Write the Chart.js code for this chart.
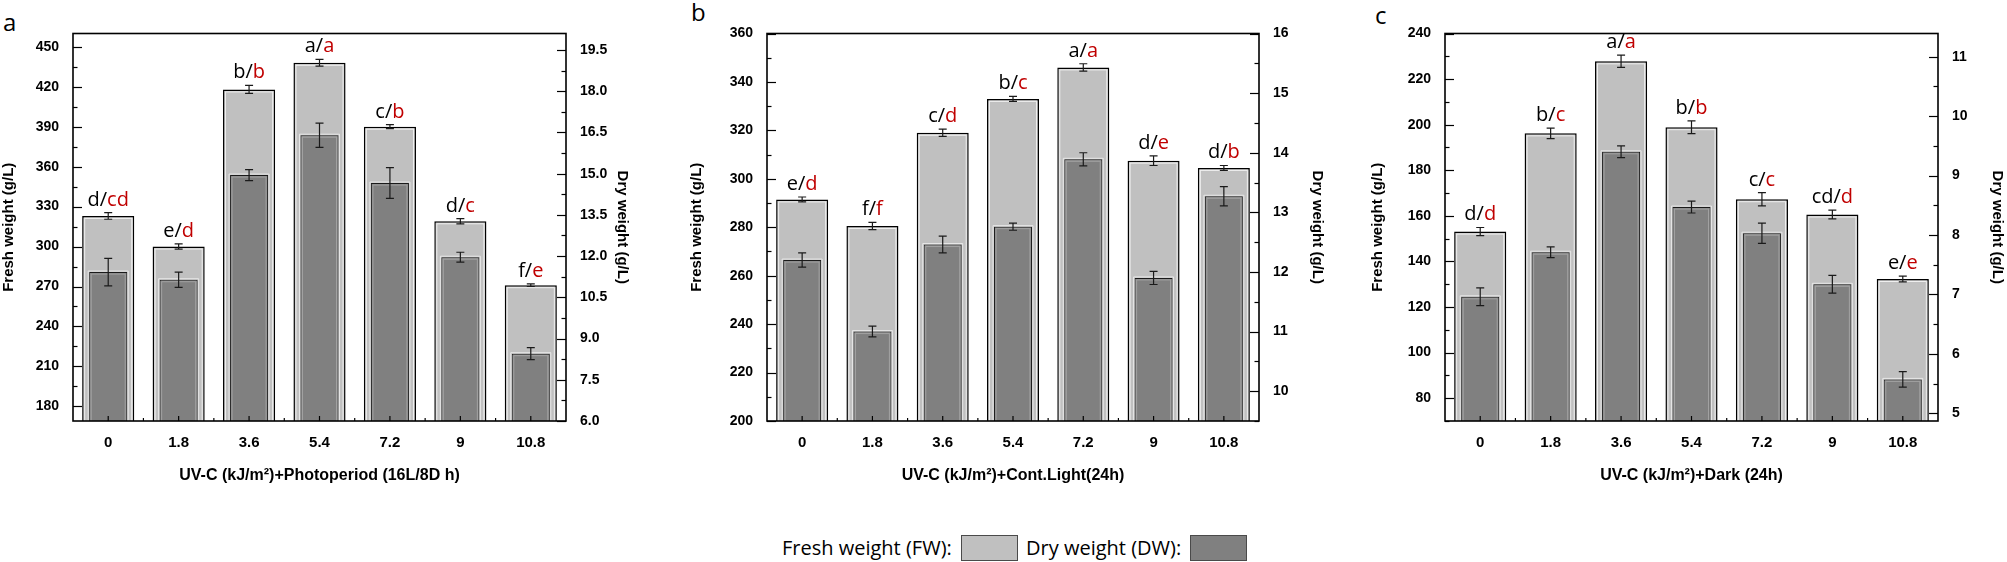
<!DOCTYPE html>
<html>
<head>
<meta charset="utf-8">
<script src="https://cdn.jsdelivr.net/npm/chart.js@4.4.0/dist/chart.umd.min.js"></script>
<style>
  html, body { margin:0; padding:0; background:#fff; }
  body { width:2007px; height:562px; position:relative; overflow:hidden; }
  canvas { position:absolute; top:0; }
  .plab { position:absolute; font-family:"Open Sans", sans-serif; font-size:24px; line-height:24px; color:#000; }
  .leg { position:absolute; font-family:"Open Sans", sans-serif; font-size:20px; line-height:26px; top:535px; color:#000; white-space:nowrap; }
  .box { position:absolute; top:535px; width:55px; height:24px; border:1px solid #4a4a4a; }
</style>
</head>
<body>
<div class="plab" style="left:3px;top:10px;">a</div>
<div class="plab" style="left:691px;top:0px;">b</div>
<div class="plab" style="left:1375px;top:3px;">c</div>

<canvas id="ca" width="631" height="500" style="left:0px;"></canvas>
<canvas id="cb" width="638" height="500" style="left:688px;"></canvas>
<canvas id="cc" width="637" height="500" style="left:1369px;"></canvas>

<div class="leg" style="left:782px;">Fresh weight (FW):</div>
<div class="box" style="left:961px;background:#c0c0c0;"></div>
<div class="leg" style="left:1026px;">Dry weight (DW):</div>
<div class="box" style="left:1190px;background:#808080;"></div>

<script>
// ---------------- DATA ----------------
const categories = ['0', '1.8', '3.6', '5.4', '7.2', '9', '10.8'];

// Panel a: UV-C + Photoperiod (16L/8D h)
const fwA      = [323, 300, 418, 438, 390, 319, 271];
const fwErrA   = [2.5, 2, 3, 2.5, 1.5, 2, 1];
const dwA      = [11.42, 11.14, 14.95, 16.4, 14.66, 11.96, 8.45];
const dwErrA   = [0.5, 0.28, 0.2, 0.44, 0.56, 0.18, 0.22];
const fwLetA   = ['d', 'e', 'b', 'a', 'c', 'd', 'f'];
const dwLetA   = ['cd', 'd', 'b', 'a', 'b', 'c', 'e'];

// Panel b: UV-C + Cont.Light (24h)
const fwB      = [291.5, 280.5, 319, 333, 346, 307.5, 304.5];
const fwErrB   = [1, 1.5, 1.5, 1, 1.5, 2, 1];
const dwB      = [12.2, 11.0, 12.46, 12.76, 13.89, 11.9, 13.27];
const dwErrB   = [0.12, 0.09, 0.14, 0.06, 0.11, 0.11, 0.16];
const fwLetB   = ['e', 'f', 'c', 'b', 'a', 'd', 'd'];
const dwLetB   = ['d', 'f', 'd', 'c', 'a', 'e', 'b'];

// Panel c: UV-C + Dark (24h)
const fwC      = [153.1, 196.2, 227.8, 198.9, 167.3, 160.6, 132.3];
const fwErrC   = [1.8, 2.3, 2.7, 2.8, 2.9, 1.9, 1.3];
const dwC      = [6.96, 7.71, 9.40, 8.47, 8.03, 7.17, 5.57];
const dwErrC   = [0.15, 0.09, 0.1, 0.1, 0.17, 0.15, 0.13];
const fwLetC   = ['d', 'b', 'a', 'b', 'c', 'cd', 'e'];
const dwLetC   = ['d', 'c', 'a', 'b', 'c', 'd', 'e'];

const xTitles = ['UV-C (kJ/m²)+Photoperiod (16L/8D h)', 'UV-C (kJ/m²)+Cont.Light(24h)', 'UV-C (kJ/m²)+Dark (24h)'];
const leftTitle = 'Fresh weight (g/L)';
const rightTitle = 'Dry weight (g/L)';

// ---------------- PLUGINS ----------------
const highlightPlugin = {
  id: 'hl',
  afterDatasetDraw(chart, args) {
    const ctx = chart.ctx;
    const ds = chart.data.datasets[args.index];
    const area = chart.chartArea;
    ctx.save();
    ctx.beginPath();
    ctx.rect(area.left, area.top, area.right - area.left, area.bottom - area.top);
    ctx.clip();
    args.meta.data.forEach(bar => {
      const w = bar.width, x0 = bar.x - w / 2;
      const top = Math.min(bar.y, bar.base);
      const bot = Math.min(Math.max(bar.y, bar.base), area.bottom);
      ctx.lineWidth = 1;
      if (ds.kind === 'fw') {
        ctx.strokeStyle = 'rgba(255,255,255,0.75)';
        ctx.strokeRect(x0 + 2.5, top + 2.5, w - 5, bot - top);
      } else {
        ctx.strokeStyle = 'rgba(235,235,235,0.9)';
        ctx.beginPath();
        ctx.moveTo(x0 - 1, bot); ctx.lineTo(x0 - 1, top - 1); ctx.lineTo(x0 + w + 1, top - 1); ctx.lineTo(x0 + w + 1, bot);
        ctx.stroke();
        ctx.strokeStyle = 'rgba(170,170,170,0.8)';
        ctx.strokeRect(x0 + 2, top + 2, w - 4, bot - top);
      }
    });
    ctx.restore();
  }
};

const errPlugin = {
  id: 'errs',
  afterDatasetsDraw(chart) {
    const ctx = chart.ctx;
    ctx.save();
    chart.data.datasets.forEach((ds, di) => {
      const meta = chart.getDatasetMeta(di);
      const sc = chart.scales[ds.yAxisID];
      ctx.strokeStyle = '#1a1a1a';
      ctx.lineWidth = 1.2;
      meta.data.forEach((bar, j) => {
        const v = ds.data[j], e = ds.errorValues[j];
        const yt = sc.getPixelForValue(v + e), yb = sc.getPixelForValue(v - e);
        const x = bar.x, cw = 4;
        ctx.beginPath();
        ctx.moveTo(x, yt); ctx.lineTo(x, yb);
        ctx.moveTo(x - cw, yt); ctx.lineTo(x + cw, yt);
        ctx.moveTo(x - cw, yb); ctx.lineTo(x + cw, yb);
        ctx.stroke();
      });
    });
    // significance letters above FW bars
    const fw = chart.data.datasets[0];
    const dw = chart.data.datasets[1];
    const sc = chart.scales.y;
    const meta = chart.getDatasetMeta(0);
    ctx.font = '20px "Open Sans", sans-serif';
    ctx.textBaseline = 'alphabetic';
    ctx.textAlign = 'left';
    meta.data.forEach((bar, j) => {
      const a = fw.letters[j] + '/', b = dw.letters[j];
      const wa = ctx.measureText(a).width, wb = ctx.measureText(b).width;
      const x0 = bar.x - (wa + wb) / 2;
      const y = sc.getPixelForValue(fw.data[j] + fw.errorValues[j]) - 7;
      ctx.fillStyle = '#000';
      ctx.fillText(a, x0, y);
      ctx.fillStyle = '#c00000';
      ctx.fillText(b, x0 + wa, y);
    });
    ctx.restore();
  }
};

const framePlugin = {
  id: 'frame',
  afterDraw(chart) {
    const ctx = chart.ctx;
    const {left, right, top, bottom} = chart.chartArea;
    ctx.save();
    ctx.strokeStyle = '#000';
    ctx.lineWidth = 1.2;
    const yTicks = (scale, x, dir) => {
      const t = scale.ticks;
      const step = t[1].value - t[0].value;
      const vals = [];
      t.forEach(tk => vals.push([tk.value, 9]));
      vals.push([t[0].value - step / 2, 4.5]);
      t.forEach(tk => vals.push([tk.value + step / 2, 4.5]));
      vals.forEach(([v, len]) => {
        if (v < scale.min - 1e-9 || v > scale.max + 1e-9) return;
        const y = Math.round(scale.getPixelForValue(v)) + 0.5;
        ctx.beginPath(); ctx.moveTo(x, y); ctx.lineTo(x + dir * len, y); ctx.stroke();
      });
    };
    yTicks(chart.scales.y, left, 1);
    yTicks(chart.scales.y1, right, -1);
    const meta = chart.getDatasetMeta(0);
    const n = meta.data.length, cw = (right - left) / n;
    meta.data.forEach(bar => {
      ctx.beginPath(); ctx.moveTo(bar.x, bottom); ctx.lineTo(bar.x, bottom - 5); ctx.stroke();
    });
    for (let k = 1; k < n; k++) {
      const x = left + k * cw;
      ctx.beginPath(); ctx.moveTo(x, bottom); ctx.lineTo(x, bottom - 3); ctx.stroke();
    }
    ctx.lineWidth = 1.6;
    ctx.strokeRect(left, top, right - left, bottom - top);
    ctx.restore();
  }
};

// ---------------- CHART BUILDER ----------------
const tickFont = {family: '"Liberation Sans", Arial, sans-serif', size: 14, weight: 'bold'};
const titleFont = {family: '"Liberation Sans", Arial, sans-serif', size: 15, weight: 'bold'};

function makePanel(id, fw, fwErr, dw, dwErr, fwLet, dwLet, xTitle, yr, y1r, leftW, rightW, decimals) {
  new Chart(document.getElementById(id), {
    type: 'bar',
    data: {
      labels: categories,
      datasets: [
        { kind: 'fw', label: 'Fresh weight (FW)', data: fw, errorValues: fwErr, letters: fwLet,
          yAxisID: 'y', order: 2, grouped: false,
          backgroundColor: '#c0c0c0', borderColor: '#000', borderWidth: 1.5,
          barPercentage: 0.74, categoryPercentage: 1 },
        { kind: 'dw', label: 'Dry weight (DW)', data: dw, errorValues: dwErr, letters: dwLet,
          yAxisID: 'y1', order: 1, grouped: false,
          backgroundColor: '#808080', borderColor: '#1a1a1a', borderWidth: 1,
          barPercentage: 0.54, categoryPercentage: 1 }
      ]
    },
    options: {
      responsive: false,
      animation: false,
      devicePixelRatio: 1,
      layout: { padding: { top: 33.5, bottom: 0, left: 0, right: 0 } },
      plugins: { legend: { display: false }, tooltip: { enabled: false } },
      scales: {
        x: {
          grid: { display: false, drawTicks: false }, border: { display: false },
          ticks: { color: '#000', font: {family: '"Liberation Sans", Arial, sans-serif', size: 15, weight: 'bold'}, padding: 13, maxRotation: 0, autoSkip: false },
          title: { display: true, text: xTitle, color: '#000', font: {family: '"Liberation Sans", Arial, sans-serif', size: 16, weight: 'bold'}, padding: { top: 0, bottom: 15 } },
          afterFit: s => { s.height = 79; }
        },
        y: {
          position: 'left', min: yr[0], max: yr[1],
          grid: { display: false, drawTicks: false }, border: { display: false },
          ticks: { stepSize: yr[2], includeBounds: false, color: '#000', font: tickFont, padding: 14, autoSkip: false },
          title: { display: true, text: leftTitle, color: '#000', font: titleFont, padding: { top: 0, bottom: 0 } },
          afterFit: s => { s.width = leftW; }
        },
        y1: {
          position: 'right', min: y1r[0], max: y1r[1],
          grid: { display: false, drawTicks: false }, border: { display: false },
          ticks: { stepSize: y1r[2], includeBounds: false, color: '#000', font: tickFont, padding: 14, autoSkip: false,
                   callback: v => decimals ? Number(v).toFixed(decimals) : String(v) },
          title: { display: true, text: rightTitle, color: '#000', font: titleFont, padding: { top: 0, bottom: 0 } },
          afterFit: s => { s.width = rightW; }
        }
      }
    },
    plugins: [highlightPlugin, errPlugin, framePlugin]
  });
}

makePanel('ca', fwA, fwErrA, dwA, dwErrA, fwLetA, dwLetA, xTitles[0], [169, 460, 30], [6.0, 20.1, 1.5], 73, 65, 1);
makePanel('cb', fwB, fwErrB, dwB, dwErrB, fwLetB, dwLetB, xTitles[1], [200, 360, 20], [9.5, 16, 1], 79, 67, 0);
makePanel('cc', fwC, fwErrC, dwC, dwErrC, fwLetC, dwLetC, xTitles[2], [70, 240, 20], [4.87, 11.39, 1], 76, 68, 0);
</script>
</body>
</html>
